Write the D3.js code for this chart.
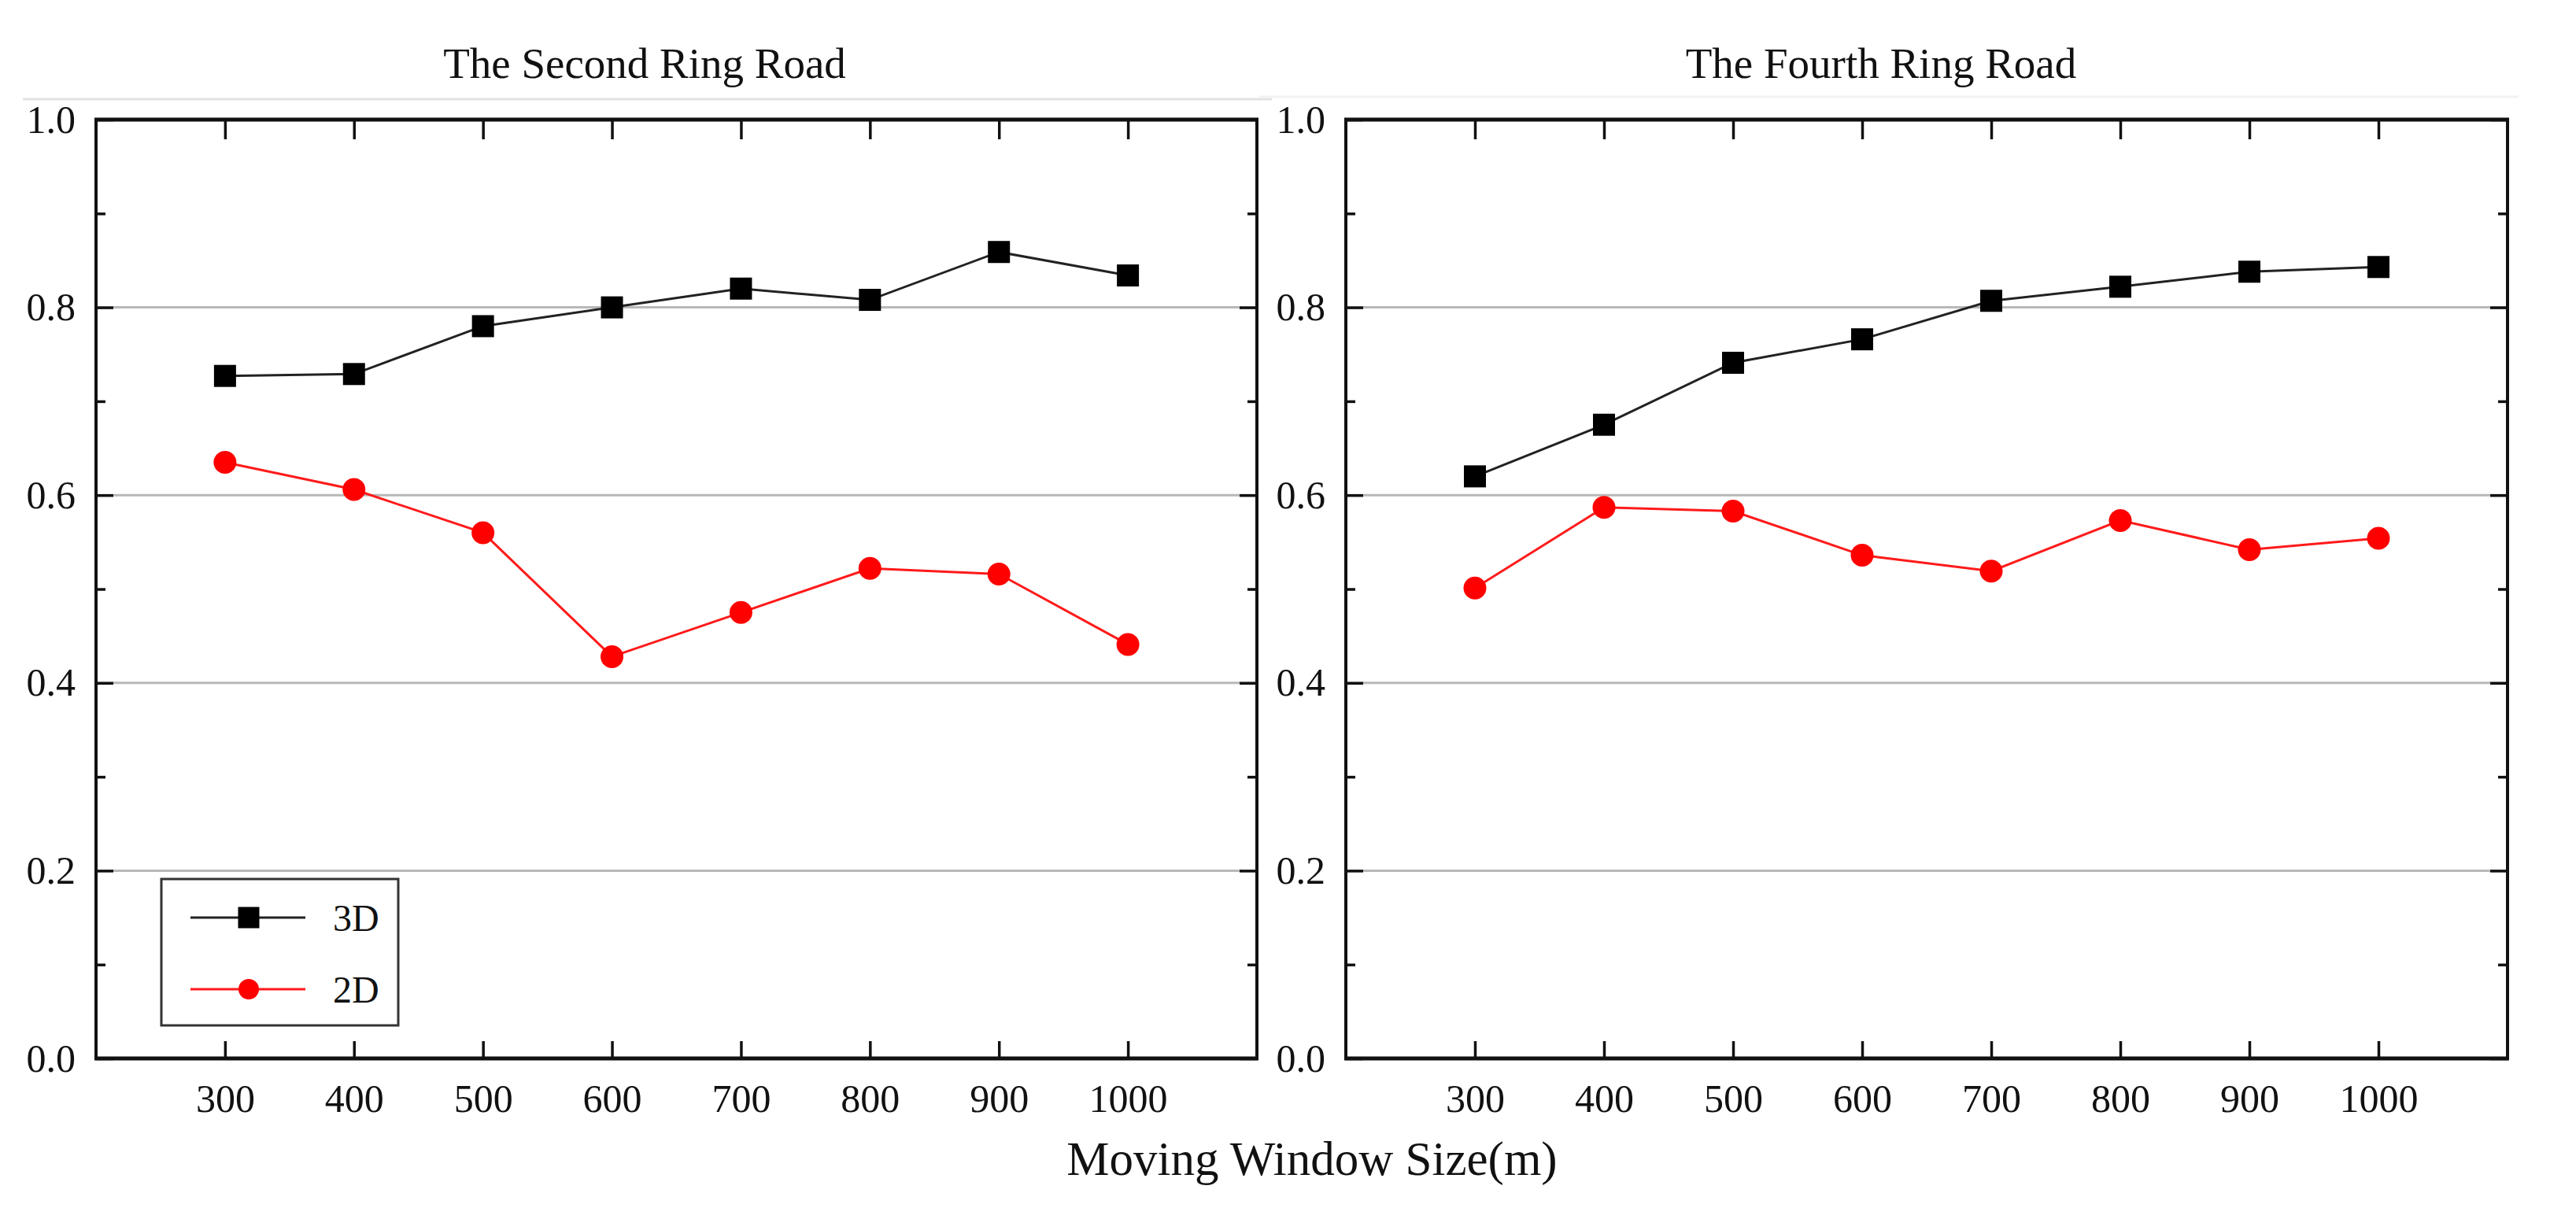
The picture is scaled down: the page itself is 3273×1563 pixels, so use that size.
<!DOCTYPE html>
<html>
<head>
<meta charset="utf-8">
<script src="https://cdn.jsdelivr.net/npm/d3@7"></script>
<style>
  html, body { margin: 0; padding: 0; background: #fff; }
  svg { display: block; }
  text { font-family: "Liberation Serif", "Times New Roman", serif; fill: #111; }
</style>
</head>
<body>
<svg id="chart" width="3273" height="1563"></svg>
<script>
// ---- data ----
const windowSizes = [300, 400, 500, 600, 700, 800, 900, 1000];
const xTickLabels = ["300", "400", "500", "600", "700", "800", "900", "1000"];
const yTickValues = [0.0, 0.2, 0.4, 0.6, 0.8, 1.0];
const yMinorTicks = [0.1, 0.3, 0.5, 0.7, 0.9];
const gridValues = [0.2, 0.4, 0.6, 0.8];
const panelTitles = ["The Second Ring Road", "The Fourth Ring Road"];
const seriesNames = ["3D", "2D"];
const secondRing3D = [0.727, 0.729, 0.780, 0.800, 0.820, 0.808, 0.859, 0.834];
const secondRing2D = [0.635, 0.606, 0.560, 0.428, 0.475, 0.522, 0.516, 0.441];
const fourthRing3D = [0.620, 0.675, 0.741, 0.766, 0.807, 0.822, 0.838, 0.843];
const fourthRing2D = [0.501, 0.587, 0.583, 0.536, 0.519, 0.573, 0.542, 0.554];
const xAxisTitle = "Moving Window Size(m)";

// ---- layout ----
const svg = d3.select("#chart");
const plotTop = 152, plotBottom = 1345;
const panels = [
  { left: 122, right: 1597, title: panelTitles[0], titleX: 819, s3: secondRing3D, s2: secondRing2D, legend: true },
  { left: 1710, right: 3186, title: panelTitles[1], titleX: 2390, s3: fourthRing3D, s2: fourthRing2D, legend: false }
];
const colors = { "3D": "#000000", "2D": "#ff0000" };
const lineColors = { "3D": "#222222", "2D": "#ff1a1a" };

// faint scan artefact lines at top
svg.append("line").attr("x1", 29).attr("x2", 1616).attr("y1", 126).attr("y2", 126)
  .attr("stroke", "#e2e2e2").attr("stroke-width", 3);
svg.append("line").attr("x1", 1600).attr("x2", 3200).attr("y1", 123).attr("y2", 123)
  .attr("stroke", "#f2f2f2").attr("stroke-width", 3);

panels.forEach(p => {
  const x = d3.scaleLinear().domain([200, 1100]).range([p.left, p.right]);
  const y = d3.scaleLinear().domain([0, 1]).range([plotBottom, plotTop]);
  const g = svg.append("g");

  // gridlines
  g.selectAll(".grid").data(gridValues).enter().append("line")
    .attr("x1", p.left).attr("x2", p.right)
    .attr("y1", d => y(d)).attr("y2", d => y(d))
    .attr("stroke", "#b8b8b8").attr("stroke-width", 3);

  // bottom axis (ticks inward, labels)
  const xb = g.append("g").attr("transform", `translate(0,${plotBottom})`)
    .call(d3.axisBottom(x).tickValues(windowSizes).tickFormat((d, i) => xTickLabels[i])
      .tickSizeInner(-22).tickSizeOuter(0).tickPadding(32));
  // top axis
  const xt = g.append("g").attr("transform", `translate(0,${plotTop})`)
    .call(d3.axisTop(x).tickValues(windowSizes).tickFormat("")
      .tickSizeInner(-25).tickSizeOuter(0));
  // left axis
  const yl = g.append("g").attr("transform", `translate(${p.left},0)`)
    .call(d3.axisLeft(y).tickValues(yTickValues).tickFormat(d3.format(".1f"))
      .tickSizeInner(-22).tickSizeOuter(0).tickPadding(26));
  const ylm = g.append("g").attr("transform", `translate(${p.left},0)`)
    .call(d3.axisLeft(y).tickValues(yMinorTicks).tickFormat("")
      .tickSizeInner(-12).tickSizeOuter(0));
  // right axis
  const yr = g.append("g").attr("transform", `translate(${p.right},0)`)
    .call(d3.axisRight(y).tickValues(yTickValues).tickFormat("")
      .tickSizeInner(-22).tickSizeOuter(0));
  const yrm = g.append("g").attr("transform", `translate(${p.right},0)`)
    .call(d3.axisRight(y).tickValues(yMinorTicks).tickFormat("")
      .tickSizeInner(-12).tickSizeOuter(0));

  [xb, xt, yl, ylm, yr, yrm].forEach(a => {
    a.select(".domain").remove();
    a.selectAll(".tick line").attr("stroke", "#111").attr("stroke-width", 3.5);
    a.selectAll(".tick text").attr("font-family", '"Liberation Serif", serif')
      .attr("font-size", 50).attr("fill", "#111");
  });

  // frame
  g.append("line").attr("x1", p.left - 2).attr("x2", p.right + 2).attr("y1", plotTop).attr("y2", plotTop)
    .attr("stroke", "#111").attr("stroke-width", 5);
  g.append("line").attr("x1", p.left - 2).attr("x2", p.right + 2).attr("y1", plotBottom).attr("y2", plotBottom)
    .attr("stroke", "#111").attr("stroke-width", 5);
  g.append("line").attr("x1", p.left).attr("x2", p.left).attr("y1", plotTop).attr("y2", plotBottom)
    .attr("stroke", "#111").attr("stroke-width", 4);
  g.append("line").attr("x1", p.right).attr("x2", p.right).attr("y1", plotTop).attr("y2", plotBottom)
    .attr("stroke", "#111").attr("stroke-width", 4);

  // title
  g.append("text").attr("x", p.titleX).attr("y", 99).attr("text-anchor", "middle")
    .attr("font-size", 55).text(p.title);

  const line = d3.line().x((d, i) => x(windowSizes[i])).y(d => y(d));

  // 2D series
  g.append("path").datum(p.s2).attr("d", line).attr("fill", "none")
    .attr("stroke", lineColors["2D"]).attr("stroke-width", 3);
  g.selectAll(".c2").data(p.s2).enter().append("circle")
    .attr("cx", (d, i) => x(windowSizes[i])).attr("cy", d => y(d)).attr("r", 14.5)
    .attr("fill", colors["2D"]);

  // 3D series
  g.append("path").datum(p.s3).attr("d", line).attr("fill", "none")
    .attr("stroke", lineColors["3D"]).attr("stroke-width", 3);
  g.selectAll(".s3").data(p.s3).enter().append("rect")
    .attr("x", (d, i) => x(windowSizes[i]) - 14).attr("y", d => y(d) - 14)
    .attr("width", 28).attr("height", 28).attr("fill", colors["3D"]);

  if (p.legend) {
    const lg = g.append("g");
    lg.append("rect").attr("x", 205).attr("y", 1117).attr("width", 301).attr("height", 186)
      .attr("fill", "#fff").attr("stroke", "#333").attr("stroke-width", 3);
    const rows = [{ name: seriesNames[0], cy: 1166 }, { name: seriesNames[1], cy: 1257 }];
    rows.forEach(r => {
      lg.append("line").attr("x1", 242).attr("x2", 388).attr("y1", r.cy).attr("y2", r.cy)
        .attr("stroke", lineColors[r.name]).attr("stroke-width", 3);
      if (r.name === "3D") {
        lg.append("rect").attr("x", 316 - 13.5).attr("y", r.cy - 13.5).attr("width", 27).attr("height", 27)
          .attr("fill", colors["3D"]);
      } else {
        lg.append("circle").attr("cx", 316).attr("cy", r.cy).attr("r", 13).attr("fill", colors["2D"]);
      }
      lg.append("text").attr("x", 423).attr("y", r.cy).attr("dy", "0.35em")
        .attr("font-size", 48).text(r.name);
    });
  }
});

// shared x-axis title
svg.append("text").attr("x", 1667).attr("y", 1493).attr("text-anchor", "middle")
  .attr("font-size", 61).text(xAxisTitle);
</script>
</body>
</html>
